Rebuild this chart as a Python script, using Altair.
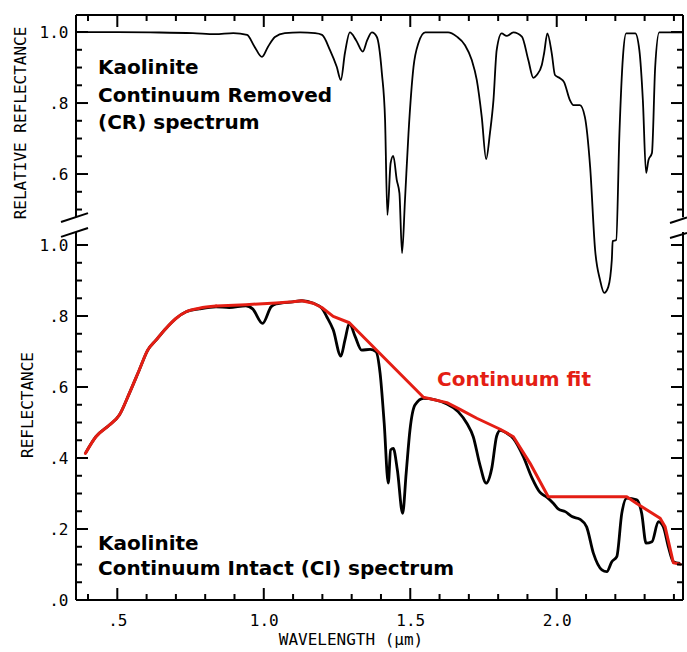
import altair as alt
import pandas as pd

# ---- Kaolinite continuum-removed (CR) spectrum: wavelength (um), relative reflectance ----
cr_wavelength = [0.359, 0.441, 0.612, 0.758, 0.834, 0.896, 0.943, 0.967, 0.994, 1.014, 1.038, 1.072,
                 1.124, 1.175, 1.199, 1.226, 1.249, 1.263, 1.277, 1.294, 1.315, 1.338, 1.353, 1.369,
                 1.386, 1.403, 1.414, 1.422, 1.433, 1.442, 1.454, 1.463, 1.472, 1.482, 1.494, 1.511,
                 1.528, 1.551, 1.629, 1.659, 1.687, 1.710, 1.727, 1.744, 1.759, 1.772, 1.784, 1.795,
                 1.812, 1.829, 1.852, 1.881, 1.903, 1.920, 1.932, 1.949, 1.957, 1.968, 1.983, 1.994,
                 2.011, 2.025, 2.045, 2.057, 2.079, 2.096, 2.114, 2.131, 2.148, 2.162, 2.176, 2.188,
                 2.191, 2.203, 2.214, 2.226, 2.237, 2.268, 2.282, 2.294, 2.305, 2.313, 2.325, 2.336,
                 2.350, 2.431]
cr_reflectance = [1.000, 1.000, 0.999, 0.997, 0.994, 0.997, 0.992, 0.961, 0.930, 0.958, 0.986, 0.997,
                  0.999, 0.997, 0.992, 0.949, 0.902, 0.865, 0.941, 0.999, 0.977, 0.945, 0.977, 0.999,
                  0.986, 0.885, 0.752, 0.485, 0.631, 0.651, 0.583, 0.546, 0.377, 0.527, 0.715, 0.901,
                  0.969, 0.999, 0.999, 0.987, 0.963, 0.921, 0.865, 0.761, 0.642, 0.715, 0.808, 0.949,
                  0.996, 0.989, 0.999, 0.987, 0.921, 0.871, 0.879, 0.907, 0.941, 0.996, 0.940, 0.879,
                  0.870, 0.859, 0.808, 0.794, 0.794, 0.761, 0.620, 0.386, 0.301, 0.265, 0.282, 0.358,
                  0.411, 0.414, 0.715, 0.930, 0.996, 0.996, 0.949, 0.808, 0.603, 0.639, 0.659, 0.901,
                  0.999, 0.999]

# ---- Kaolinite continuum-intact (CI) spectrum ----
ci_wavelength = [0.391, 0.427, 0.473, 0.507, 0.541, 0.575, 0.604, 0.632, 0.666, 0.700, 0.735, 0.780,
                 0.837, 0.882, 0.939, 0.962, 0.996, 1.025, 1.042, 1.099, 1.130, 1.169, 1.198, 1.215,
                 1.237, 1.263, 1.277, 1.292, 1.312, 1.334, 1.363, 1.383, 1.397, 1.411, 1.425, 1.433,
                 1.442, 1.456, 1.474, 1.486, 1.499, 1.516, 1.545, 1.625, 1.664, 1.693, 1.715, 1.738,
                 1.759, 1.778, 1.795, 1.807, 1.829, 1.852, 1.886, 1.915, 1.943, 1.966, 1.989, 2.006,
                 2.029, 2.052, 2.080, 2.102, 2.125, 2.154, 2.171, 2.188, 2.205, 2.222, 2.239, 2.273,
                 2.290, 2.305, 2.325, 2.347, 2.364, 2.381, 2.398, 2.421]
ci_reflectance = [0.413, 0.460, 0.493, 0.521, 0.582, 0.648, 0.704, 0.732, 0.765, 0.793, 0.812, 0.820,
                  0.826, 0.824, 0.829, 0.820, 0.779, 0.826, 0.834, 0.840, 0.843, 0.836, 0.822, 0.798,
                  0.761, 0.687, 0.732, 0.779, 0.742, 0.704, 0.706, 0.700, 0.639, 0.498, 0.329, 0.423,
                  0.427, 0.366, 0.244, 0.357, 0.479, 0.549, 0.568, 0.552, 0.530, 0.498, 0.460, 0.380,
                  0.329, 0.370, 0.462, 0.478, 0.470, 0.455, 0.404, 0.345, 0.303, 0.290, 0.272, 0.256,
                  0.249, 0.235, 0.227, 0.206, 0.132, 0.085, 0.080, 0.108, 0.122, 0.244, 0.287, 0.282,
                  0.244, 0.160, 0.164, 0.221, 0.206, 0.150, 0.108, 0.103]

# ---- Continuum fit (upper hull) of the CI spectrum ----
fit_wavelength = [0.391, 0.427, 0.473, 0.507, 0.541, 0.575, 0.604, 0.632, 0.666, 0.700, 0.735, 0.780,
                  0.837, 0.939, 1.042, 1.099, 1.130, 1.169, 1.198, 1.237, 1.292, 1.545, 1.625, 1.670,
                  1.727, 1.807, 1.852, 1.909, 1.971, 2.239, 2.273, 2.353, 2.370, 2.398, 2.421]
fit_reflectance = [0.413, 0.460, 0.493, 0.521, 0.582, 0.648, 0.704, 0.732, 0.765, 0.793, 0.812, 0.822,
                   0.828, 0.832, 0.837, 0.840, 0.843, 0.836, 0.824, 0.799, 0.781, 0.571, 0.556, 0.537,
                   0.512, 0.481, 0.460, 0.385, 0.291, 0.291, 0.272, 0.230, 0.206, 0.105, 0.101]
FIT_SMOOTH_END = 0.837    # the fit follows the smooth spectrum up to here, then runs as hull segments

# ---- axis labels and annotation text ----
x_label_values = [0.5, 1.0, 1.5, 2.0]
ci_label_values = [0.0, 0.2, 0.4, 0.6, 0.8, 1.0]
cr_label_values = [0.6, 0.8, 1.0]
cr_title = "RELATIVE REFLECTANCE"
ci_title = "REFLECTANCE"
x_title = "WAVELENGTH (\u03bcm)"
cr_note = ["Kaolinite", "Continuum Removed", "(CR) spectrum"]
ci_note = ["Kaolinite", "Continuum Intact (CI) spectrum"]
fit_note = "Continuum fit"

# ---- layout constants ----
CR_SHIFT = 0.6            # CR panel is stacked 0.6 units above the CI panel
X_MIN, X_MAX = 0.359, 2.431
Y_MAX = 1.648
CI_TOP = 1.037            # where the lower panel's side lines stop
CR_BOTTOM = 1.078         # where the upper panel's side lines start
W, H = 607, 585
RED = "#e41e14"
MONO = "DejaVu Sans Mono"
SANS = "DejaVu Sans"
MAJOR, MINOR = 12, 6

x_scale = alt.Scale(domain=[X_MIN, X_MAX], nice=False, zero=False)
y_scale = alt.Scale(domain=[0, Y_MAX], nice=False, zero=False)

# leading-zero-free labels: ".5", "1.0", ".2" ...
x_axis = alt.Axis(
    values=x_label_values, title=None, ticks=False, tickSize=0, domain=False, grid=False,
    labelExpr="datum.value < 0.95 ? substring(format(datum.value, '.1f'), 1) : format(datum.value, '.1f')",
    labelFont=MONO, labelFontSize=16, labelColor="black", labelPadding=12,
    labelFlush=False, labelOverlap=False,
)
y_values = ci_label_values + [round(v + CR_SHIFT, 3) for v in cr_label_values]
_v = f"(datum.value > 1.1 ? datum.value - {CR_SHIFT} : datum.value)"
y_axis = alt.Axis(
    values=y_values, title=None, ticks=False, tickSize=0, domain=False, grid=False,
    labelExpr=f"format({_v}, '.1f') == '1.0' ? '1.0' : substring(format({_v}, '.1f'), 1)",
    labelFont=MONO, labelFontSize=16, labelColor="black", labelPadding=8,
    labelFlush=False, labelOverlap=False,
)


def xq(field):
    return alt.X(field, type="quantitative", scale=x_scale, axis=x_axis)


def yq(field):
    return alt.Y(field, type="quantitative", scale=y_scale, axis=y_axis)


# ---- spectra ----
cr_df = pd.DataFrame({"wl": cr_wavelength, "r": cr_reflectance})
ci_df = pd.DataFrame({"wl": ci_wavelength, "r": ci_reflectance})
fit_df = pd.DataFrame({"wl": fit_wavelength, "r": fit_reflectance})

cr_line = alt.Chart(cr_df).transform_calculate(
    y=f"datum.r + {CR_SHIFT}"
).mark_line(color="black", strokeWidth=1.8, interpolate="monotone", clip=False,
            strokeJoin="round").encode(x=xq("wl"), y=yq("y"))
ci_line = alt.Chart(ci_df).mark_line(color="black", strokeWidth=2.8, interpolate="monotone",
                                     strokeJoin="round").encode(x=xq("wl"), y=yq("r"))
# smooth rising part of the fit, then straight hull segments
fit_smooth = alt.Chart(fit_df[fit_df.wl <= FIT_SMOOTH_END]).mark_line(
    color=RED, strokeWidth=3, interpolate="monotone", strokeCap="round"
).encode(x=xq("wl"), y=yq("r"))
fit_hull = alt.Chart(fit_df[fit_df.wl >= FIT_SMOOTH_END]).mark_line(
    color=RED, strokeWidth=3, strokeJoin="round", strokeCap="round"
).encode(x=xq("wl"), y=yq("r"))

# ---- frame with broken side lines ----
one = pd.DataFrame({"k": [0]})
sides = pd.DataFrame({"y1": [0.0, CR_BOTTOM], "y2": [CI_TOP, Y_MAX]})
frame = [
    alt.Chart(one).mark_rule(color="black", strokeWidth=2).encode(
        x=alt.value(0), x2=alt.value(W), y=alt.value(0)),
    alt.Chart(one).mark_rule(color="black", strokeWidth=2).encode(
        x=alt.value(0), x2=alt.value(W), y=alt.value(H)),
]
for xpix in (0, W):
    frame.append(alt.Chart(sides).mark_rule(color="black", strokeWidth=2).encode(
        x=alt.value(xpix), y=yq("y1"), y2="y2:Q"))

# slanted break marks across each side line
left_breaks = pd.DataFrame({"y1": [1.065, 1.023], "y2": [1.090, 1.048]})
right_breaks = pd.DataFrame({"y1": [1.062, 1.020], "y2": [1.078, 1.034]})
frame.append(alt.Chart(left_breaks).mark_rule(color="black", strokeWidth=2).encode(
    x=alt.value(-15), x2=alt.value(12), y=yq("y1"), y2="y2:Q"))
frame.append(alt.Chart(right_breaks).mark_rule(color="black", strokeWidth=2).encode(
    x=alt.value(W - 13), x2=alt.value(W + 4), y=yq("y1"), y2="y2:Q"))

# ---- inward-pointing ticks ----
x_major = x_label_values
x_minor = [round(0.4 + 0.1 * i, 2) for i in range(21)]
x_minor = [v for v in x_minor if all(abs(v - m) > 1e-6 for m in x_major)]
ci_steps = [round(0.05 * i, 2) for i in range(21)]
cr_steps = [round(0.5 + 0.05 * i, 2) for i in range(11)]
y_major = [v for v in ci_steps if v in ci_label_values] + \
          [round(v + CR_SHIFT, 3) for v in cr_steps if v in cr_label_values]
y_minor = [v for v in ci_steps if v not in ci_label_values] + \
          [round(v + CR_SHIFT, 3) for v in cr_steps if v not in cr_label_values]

ticks = []
for vals, length in ((x_major, MAJOR), (x_minor, MINOR)):
    df = pd.DataFrame({"pos": vals})
    ticks.append(alt.Chart(df).mark_rule(color="black", strokeWidth=2).encode(
        x=xq("pos"), y=alt.value(0), y2=alt.value(length)))
    ticks.append(alt.Chart(df).mark_rule(color="black", strokeWidth=2).encode(
        x=xq("pos"), y=alt.value(H), y2=alt.value(H - length)))
for vals, length in ((y_major, MAJOR), (y_minor, MINOR)):
    df = pd.DataFrame({"pos": vals})
    ticks.append(alt.Chart(df).mark_rule(color="black", strokeWidth=2).encode(
        y=yq("pos"), x=alt.value(0), x2=alt.value(length)))
    ticks.append(alt.Chart(df).mark_rule(color="black", strokeWidth=2).encode(
        y=yq("pos"), x=alt.value(W), x2=alt.value(W - length)))

# ---- titles and annotations ----
texts = [
    alt.Chart(one).mark_text(text=cr_title, font=MONO, fontSize=16, angle=270,
                             align="center", baseline="middle", color="black").encode(
        x=alt.value(-55), y=alt.value(108)),
    alt.Chart(one).mark_text(text=ci_title, font=MONO, fontSize=16, angle=270,
                             align="center", baseline="middle", color="black").encode(
        x=alt.value(-48), y=alt.value(390)),
    alt.Chart(one).mark_text(text=x_title, font=MONO, fontSize=16,
                             align="center", baseline="middle", color="black").encode(
        x=alt.value(275), y=alt.value(625)),
    alt.Chart(one).mark_text(text=cr_note, font=SANS, fontSize=20, fontWeight="bold",
                             align="left", baseline="alphabetic", lineHeight=27.5,
                             color="black").encode(
        x=alt.value(22), y=alt.value(59)),
    alt.Chart(one).mark_text(text=ci_note, font=SANS, fontSize=20, fontWeight="bold",
                             align="left", baseline="alphabetic", lineHeight=25,
                             color="black").encode(
        x=alt.value(22), y=alt.value(535)),
    alt.Chart(one).mark_text(text=fit_note, font=SANS, fontSize=20, fontWeight="bold",
                             align="left", baseline="alphabetic", color=RED).encode(
        x=alt.value(361), y=alt.value(371)),
]

chart = alt.layer(
    cr_line, ci_line, fit_smooth, fit_hull, *frame, *ticks, *texts
).properties(
    width=W, height=H,
    autosize=alt.AutoSizeParams(type="none"),
    padding={"left": 76, "top": 15, "right": 4, "bottom": 52},
    background="white",
).configure_view(stroke=None)

chart.save("out.html", embed_options={"renderer": "svg", "actions": False})
